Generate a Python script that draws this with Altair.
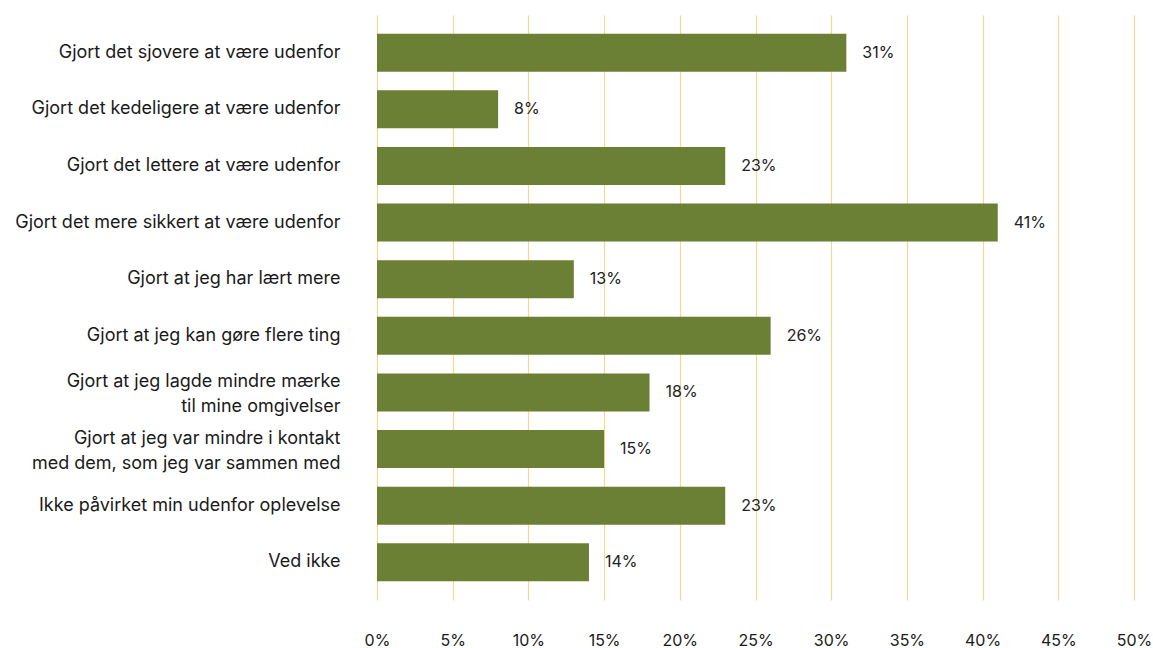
import altair as alt
import pandas as pd

categories = [
    "Gjort det sjovere at være udenfor",
    "Gjort det kedeligere at være udenfor",
    "Gjort det lettere at være udenfor",
    "Gjort det mere sikkert at være udenfor",
    "Gjort at jeg har lært mere",
    "Gjort at jeg kan gøre flere ting",
    "Gjort at jeg lagde mindre mærke|til mine omgivelser",
    "Gjort at jeg var mindre i kontakt|med dem, som jeg var sammen med",
    "Ikke påvirket min udenfor oplevelse",
    "Ved ikke",
]
values = [31, 8, 23, 41, 13, 26, 18, 15, 23, 14]

df = pd.DataFrame({"kategori": categories, "andel": values})
df["tekst"] = df["andel"].astype(str) + "%"

FONT = "Inter"
GREEN = "#6b7f35"
GRID = "#f1d994"
INK = "#1a1a1a"

y_enc = alt.Y(
    "kategori:N",
    sort=categories,
    scale=alt.Scale(paddingInner=0.33, paddingOuter=0.33),
    axis=alt.Axis(
        title=None,
        domain=False,
        ticks=False,
        grid=False,
        labelPadding=37,
        labelFontSize=18,
        labelFont=FONT,
        labelColor=INK,
        labelExpr="split(datum.label, '|')",
        labelLineHeight=25,
        labelOffset={
            "condition": {"test": "indexof(datum.value, '|') >= 0", "value": -10},
            "value": 0,
        },
        labelLimit=400,
    ),
)

x_enc = alt.X(
    "andel:Q",
    scale=alt.Scale(domain=[0, 50], nice=False),
    axis=alt.Axis(
        title=None,
        values=list(range(0, 55, 5)),
        labelExpr="datum.value + '%'",
        domain=False,
        ticks=False,
        grid=True,
        gridColor=GRID,
        gridWidth=1.2,
        labelFlush=False,
        labelPadding=32,
        labelFontSize=16,
        labelFont=FONT,
        labelColor=INK,
    ),
)

bars = alt.Chart(df).mark_bar(color=GREEN).encode(x=x_enc, y=y_enc)

labels = alt.Chart(df).mark_text(
    align="left", baseline="middle", dx=16, fontSize=16, font=FONT, color="#222222"
).encode(
    x=alt.X("andel:Q"),
    y=alt.Y("kategori:N", sort=categories),
    text="tekst:N",
)

chart = (
    alt.layer(bars, labels)
    .properties(
        width=757,
        height=585,
        background="white",
        autosize=alt.AutoSizeParams(type="none"),
        padding={"left": 377, "top": 15, "right": 19, "bottom": 48},
    )
    .configure_view(strokeWidth=0)
)

chart.save("out.html", embed_options={"renderer": "svg", "actions": False})
